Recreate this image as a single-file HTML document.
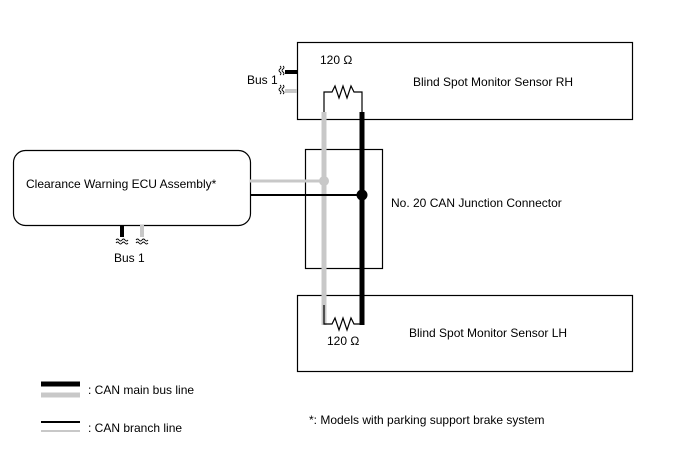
<!DOCTYPE html>
<html><head><style>body{margin:0;background:#fff}svg{display:block}text{font-family:"Liberation Sans",sans-serif;font-size:12px;fill:#000}</style></head><body>
<svg width="688" height="463" viewBox="0 0 688 463">
<rect x="297.5" y="42.5" width="335" height="77" fill="none" stroke="#000" stroke-width="1.2"/>
<rect x="297.5" y="295.5" width="335" height="76" fill="none" stroke="#000" stroke-width="1.2"/>
<rect x="13.5" y="150.5" width="237" height="75" rx="12" fill="none" stroke="#000" stroke-width="1.2"/>
<rect x="305.5" y="149.5" width="77" height="119" fill="none" stroke="#000" stroke-width="1.2"/>
<line x1="250" y1="181" x2="324" y2="181" stroke="#c8c8c8" stroke-width="3"/>
<line x1="324" y1="112" x2="324" y2="325" stroke="#c8c8c8" stroke-width="5"/>
<circle cx="324" cy="181" r="5" fill="#c8c8c8"/>
<line x1="250" y1="195" x2="362" y2="195" stroke="#000" stroke-width="2"/>
<line x1="362" y1="112" x2="362" y2="325" stroke="#000" stroke-width="5"/>
<circle cx="362" cy="195" r="5.5" fill="#000"/>
<polyline points="324,112 324,92 332,92 335,86 339,98 343,86 347,98 351,86 354,92 362,92 362,112" fill="none" stroke="#000" stroke-width="1.2"/>
<polyline points="324,305 324,324 332,324 335,318 339,330 343,318 347,330 351,318 354,324 362,324 362,305" fill="none" stroke="#000" stroke-width="1.2"/>
<line x1="285" y1="72" x2="297" y2="72" stroke="#000" stroke-width="4"/>
<line x1="285" y1="91" x2="297" y2="91" stroke="#c8c8c8" stroke-width="4"/>
<g fill="none" stroke="#000" stroke-width="0.9">
<path d="M280,66 q2,1.5 0,3 q-2,1.5 0,3 q2,1.5 0,3 M283,66 q2,1.5 0,3 q-2,1.5 0,3 q2,1.5 0,3"/>
<path d="M280,85 q2,1.5 0,3 q-2,1.5 0,3 q2,1.5 0,3 M283,85 q2,1.5 0,3 q-2,1.5 0,3 q2,1.5 0,3"/>
<path d="M116,240 q1.5,-2 3,0 q1.5,2 3,0 q1.5,-2 3,0 q1.5,2 3,0 M116,243 q1.5,-2 3,0 q1.5,2 3,0 q1.5,-2 3,0 q1.5,2 3,0"/>
<path d="M136,240 q1.5,-2 3,0 q1.5,2 3,0 q1.5,-2 3,0 q1.5,2 3,0 M136,243 q1.5,-2 3,0 q1.5,2 3,0 q1.5,-2 3,0 q1.5,2 3,0"/>
</g>
<line x1="122" y1="225" x2="122" y2="237" stroke="#000" stroke-width="4"/>
<line x1="142" y1="225" x2="142" y2="237" stroke="#c8c8c8" stroke-width="4"/>
<text x="247" y="84">Bus 1</text>
<text x="114" y="262">Bus 1</text>
<text x="320" y="64">120 Ω</text>
<text x="327" y="345">120 Ω</text>
<text x="413" y="86">Blind Spot Monitor Sensor RH</text>
<text x="409" y="337">Blind Spot Monitor Sensor LH</text>
<text x="26" y="188">Clearance Warning ECU Assembly*</text>
<text x="391" y="207">No. 20 CAN Junction Connector</text>
<line x1="41" y1="384" x2="80" y2="384" stroke="#000" stroke-width="5"/>
<line x1="41" y1="395" x2="80" y2="395" stroke="#c8c8c8" stroke-width="5"/>
<line x1="41" y1="422" x2="80" y2="422" stroke="#000" stroke-width="2"/>
<line x1="41" y1="431" x2="80" y2="431" stroke="#c8c8c8" stroke-width="2"/>
<text x="88" y="394">: CAN main bus line</text>
<text x="88" y="432">: CAN branch line</text>
<text x="309" y="424">*: Models with parking support brake system</text>
</svg></body></html>
